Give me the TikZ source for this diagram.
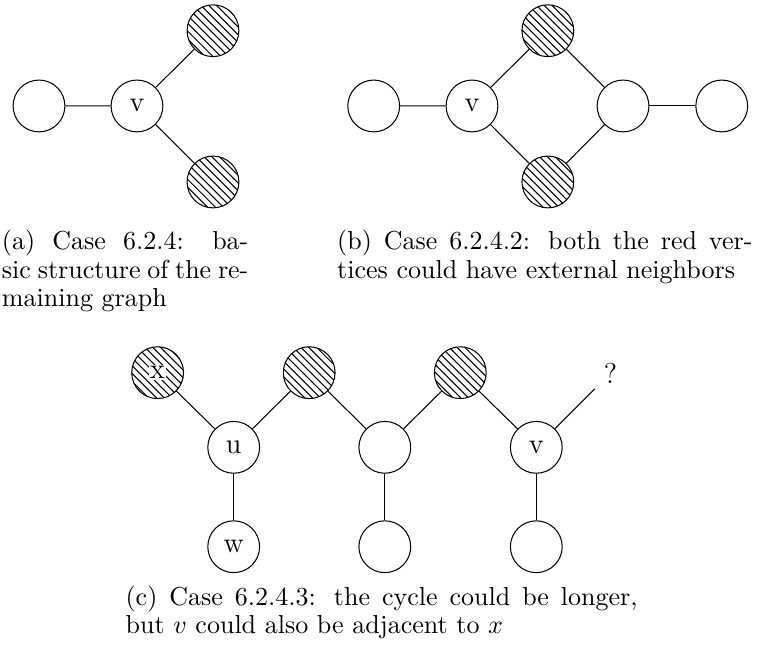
\documentclass[tikz,border=0pt]{standalone}
\usepackage{tikz}
\usetikzlibrary{patterns}

\begin{document}
\begin{tikzpicture}[
    vertex/.style={draw,circle,minimum size=0.7cm,inner sep=0pt,
      font=\fontsize{11}{13}\selectfont},
    hatched/.style={vertex,pattern=north west lines},
    capt/.style={anchor=base west,inner sep=0pt,align=justify,
      font=\fontsize{10}{10.8}\selectfont}
  ]
    \useasboundingbox (0,0) rectangle (10.243,-8.851);

    % (a) basic structure
    \node[vertex] (a-l) at (0.527,-1.432) {};
    \node[vertex] (a-v) at (1.851,-1.432) {v};
    \node[hatched] (a-t) at (2.878,-0.415) {};
    \node[hatched] (a-b) at (2.878,-2.459) {};
    \draw (a-l) -- (a-v) -- (a-t);
    \draw (a-v) -- (a-b);
    \node[capt,text width=3.33cm] (a-cap) at (0.02,-3.378)
      {(a) Case 6.2.4: ba-\linebreak sic structure of the re-\linebreak maining graph};

    % (b) both red vertices
    \node[vertex] (b-l) at (5.05,-1.432) {};
    \node[vertex] (b-v) at (6.378,-1.432) {v};
    \node[hatched] (b-t) at (7.403,-0.415) {};
    \node[hatched] (b-b) at (7.403,-2.459) {};
    \node[vertex] (b-r) at (8.419,-1.432) {};
    \node[vertex] (b-rr) at (9.753,-1.432) {};
    \draw (b-l) -- (b-v) -- (b-t) -- (b-r) -- (b-b) -- (b-v);
    \draw (b-r) -- (b-rr);
    \node[capt,text width=5.61cm] (b-cap) at (4.55,-3.378)
      {(b) Case 6.2.4.2: both the red ver-\linebreak tices could have external neighbors};

    % (c) longer cycle
    \node[hatched] (c-x) at (2.13,-5.036) {};
    \node[fill=white,inner sep=0.5pt,font=\fontsize{11}{13}\selectfont] (c-xl) at (c-x) {x};
    \node[vertex] (c-u) at (3.158,-6.045) {u};
    \node[hatched] (c-t1) at (4.178,-5.036) {};
    \node[vertex] (c-m) at (5.2,-6.045) {};
    \node[hatched] (c-t2) at (6.22,-5.036) {};
    \node[vertex] (c-v) at (7.247,-6.045) {v};
    \node[vertex] (c-w) at (3.158,-7.388) {w};
    \node[vertex] (c-mb) at (5.2,-7.388) {};
    \node[vertex] (c-vb) at (7.247,-7.388) {};
    \node[font=\fontsize{11}{13}\selectfont] (c-q) at (8.25,-5.04) {?};
    \draw (c-x) -- (c-u) -- (c-t1) -- (c-m) -- (c-t2) -- (c-v) -- (c-q);
    \draw (c-u) -- (c-w);
    \draw (c-m) -- (c-mb);
    \draw (c-v) -- (c-vb);
    \node[capt,text width=6.92cm] (c-cap) at (1.69,-8.176)
      {(c) Case 6.2.4.3: the cycle could be longer,\linebreak but $v$ could also be adjacent to $x$};
\end{tikzpicture}
\end{document}
